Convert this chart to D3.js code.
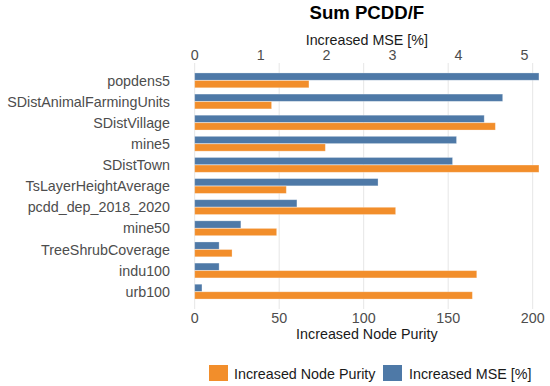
<!DOCTYPE html>
<html>
<head>
<meta charset="utf-8">
<script src="https://cdn.jsdelivr.net/npm/d3@7"></script>
<style>
  body { margin: 0; background: #fff; }
  text { font-family: "Liberation Sans", Arial, sans-serif; }
</style>
</head>
<body>
<div id="chart"></div>
<script>
// variables, top to bottom
const categories = [
  "popdens5", "SDistAnimalFarmingUnits", "SDistVillage", "mine5", "SDistTown",
  "TsLayerHeightAverage", "pcdd_dep_2018_2020", "mine50", "TreeShrubCoverage",
  "indu100", "urb100"
];
// Increased MSE [%] (top axis)
const mse = [5.22, 4.67, 4.39, 3.97, 3.91, 2.78, 1.55, 0.70, 0.37, 0.37, 0.11];
// Increased Node Purity (bottom axis)
const purity = [67.6, 45.5, 177.9, 77.3, 203.7, 54.2, 118.9, 48.5, 22.1, 166.9, 164.3];

const purityTicks = [0, 50, 100, 150, 200];
const mseTicks = [0, 1, 2, 3, 4, 5];

const series = ["mse", "purity"];
const seriesLabels = { purity: "Increased Node Purity", mse: "Increased MSE [%]" };
const colors = { mse: "#4e79a7", purity: "#f28e2b" };

const width = 550, height = 386;
const marginLeft = 194.7, marginRight = 10;

// the MSE values are drawn on the purity scale, scaled so both maxima line up
const factor = d3.max(purity) / d3.max(mse);

const x = d3.scaleLinear().domain([0, 200]).range([marginLeft, 532.7]);
const xTop = d3.scaleLinear().domain([0, 200 / factor]).range([marginLeft, 532.7]);

const y = d3.scaleBand()
  .domain(categories)
  .range([69.8, 302.2])
  .paddingInner(0.27)
  .paddingOuter(0.135);
const ySub = d3.scaleBand().domain(series).range([0, y.bandwidth()]).padding(0.04);

const svg = d3.select("#chart").append("svg")
  .attr("width", width)
  .attr("height", height)
  .attr("viewBox", [0, 0, width, height]);

const panelTop = 66, panelBottom = 306;

// grid
svg.append("g")
  .selectAll("line")
  .data(purityTicks)
  .join("line")
  .attr("x1", d => x(d)).attr("x2", d => x(d))
  .attr("y1", panelTop - 3).attr("y2", panelBottom + 3)
  .attr("stroke", "#e6e6e6")
  .attr("stroke-width", 1);

// bars
const rows = categories.map((c, i) => ({ c, mse: mse[i], purity: purity[i] }));
svg.append("g")
  .selectAll("g")
  .data(rows)
  .join("g")
  .attr("transform", d => `translate(0,${y(d.c)})`)
  .selectAll("rect")
  .data(d => series.map(s => ({ s, v: s === "mse" ? d.mse * factor : d.purity })))
  .join("rect")
  .attr("x", x(0))
  .attr("y", d => ySub(d.s))
  .attr("width", d => x(d.v) - x(0))
  .attr("height", ySub.bandwidth())
  .attr("fill", d => colors[d.s])
  .attr("stroke", "#ffffff")
  .attr("stroke-opacity", 0.35)
  .attr("stroke-width", 0.8);

// category labels
svg.append("g")
  .selectAll("text")
  .data(categories)
  .join("text")
  .attr("x", 170)
  .attr("y", d => y(d) + y.bandwidth() / 2)
  .attr("dy", "0.36em")
  .attr("text-anchor", "end")
  .attr("fill", "#4d4d4d")
  .attr("font-size", 14.3)
  .text(d => d);

// bottom axis
svg.append("g")
  .selectAll("text")
  .data(purityTicks)
  .join("text")
  .attr("x", d => x(d))
  .attr("y", 322.7)
  .attr("text-anchor", "middle")
  .attr("fill", "#4d4d4d")
  .attr("font-size", 14.3)
  .text(d => d);

svg.append("text")
  .attr("x", (x(0) + 539) / 2)
  .attr("y", 338.5)
  .attr("text-anchor", "middle")
  .attr("fill", "#1a1a1a")
  .attr("font-size", 14.3)
  .text("Increased Node Purity");

// top axis
svg.append("g")
  .selectAll("text")
  .data(mseTicks)
  .join("text")
  .attr("x", d => xTop(d))
  .attr("y", 59.5)
  .attr("text-anchor", "middle")
  .attr("fill", "#4d4d4d")
  .attr("font-size", 14.3)
  .text(d => d);

svg.append("text")
  .attr("x", (x(0) + 539) / 2)
  .attr("y", 45)
  .attr("text-anchor", "middle")
  .attr("fill", "#1a1a1a")
  .attr("font-size", 14.3)
  .text("Increased MSE [%]");

// title
svg.append("text")
  .attr("x", (x(0) + 539) / 2)
  .attr("y", 18.5)
  .attr("text-anchor", "middle")
  .attr("font-weight", "bold")
  .attr("fill", "#000")
  .attr("font-size", 18.6)
  .text("Sum PCDD/F");

// legend
const legend = [
  { s: "purity", kx: 209, tx: 234 },
  { s: "mse", kx: 383, tx: 409 }
];
const lg = svg.append("g");
lg.selectAll("rect")
  .data(legend)
  .join("rect")
  .attr("x", d => d.kx)
  .attr("y", 365)
  .attr("width", 19)
  .attr("height", 16)
  .attr("fill", d => colors[d.s]);
lg.selectAll("text")
  .data(legend)
  .join("text")
  .attr("x", d => d.tx)
  .attr("y", 378.5)
  .attr("fill", "#1a1a1a")
  .attr("font-size", 14.3)
  .text(d => seriesLabels[d.s]);
</script>
</body>
</html>
